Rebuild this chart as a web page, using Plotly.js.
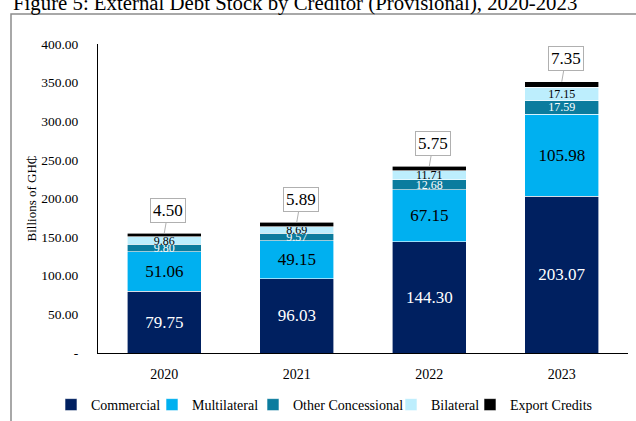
<!DOCTYPE html>
<html>
<head>
<meta charset="utf-8">
<script src="https://cdn.plot.ly/plotly-3.0.1.min.js"></script>
<style>html,body{margin:0;padding:0;background:#fff;}#chart{width:636px;height:421px;}</style>
</head>
<body>
<div id="chart"></div>
<script>
const years = ['2020', '2021', '2022', '2023'];
const commercial = [79.75, 96.03, 144.30, 203.07];
const multilateral = [51.06, 49.15, 67.15, 105.98];
const otherConcessional = [9.80, 9.57, 12.68, 17.59];
const bilateral = [9.86, 8.69, 11.71, 17.15];
const exportCredits = [4.50, 5.89, 5.75, 7.35];
const yTickVals = [0, 50, 100, 150, 200, 250, 300, 350, 400];
const yTickText = ['-', '50.00', '100.00', '150.00', '200.00', '250.00', '300.00', '350.00', '400.00'];

const serif = 'Liberation Serif, Times New Roman, serif';
const W = 636, H = 421, L = 98, R = 8, T = 43.5, B = 68;
const pw = W - L - R, ph = H - T - B;
const px = x => (x - L) / pw;
const py = y => (H - B - y) / ph;

function seg(name, vals, color, txtColor, size, showText, legendId) {
  return {
    type: 'bar', name: name, x: years, y: vals, legend: legendId,
    marker: {color: color, line: {color: '#ffffff', width: 0.6}},
    text: showText ? vals.map(v => v.toFixed(2)) : undefined,
    textposition: showText ? 'inside' : 'none',
    insidetextanchor: 'middle',
    textangle: 0,
    constraintext: 'none',
    textfont: {family: serif, size: size, color: txtColor},
    hoverinfo: 'x+y+name'
  };
}

const data = [
  seg('Commercial', commercial, '#002060', '#ffffff', 17, true, 'legend'),
  seg('Multilateral', multilateral, '#00B0F0', '#000000', 17, true, 'legend2'),
  seg('Other Concessional', otherConcessional, '#0B7C9E', '#ffffff', 12, true, 'legend3'),
  seg('Bilateral', bilateral, '#BDEEFD', '#000000', 12, true, 'legend4'),
  seg('Export Credits', exportCredits, '#000000', '#000000', 12, false, 'legend5')
];

const totals = years.map((_, i) => commercial[i] + multilateral[i] + otherConcessional[i] + bilateral[i] + exportCredits[i]);

const annotations = years.map((yr, i) => ({
  x: i, y: totals[i], xref: 'x', yref: 'y',
  text: exportCredits[i].toFixed(2),
  showarrow: true, arrowhead: 0, arrowwidth: 1, arrowcolor: '#b0b0b0',
  ax: 4, ay: -23,
  bgcolor: '#ffffff', bordercolor: '#b0b0b0', borderwidth: 1, borderpad: 2,
  font: {family: serif, size: 17, color: '#000000'}
}));

annotations.push({
  xref: 'paper', yref: 'paper', x: px(11), y: py(2),
  xanchor: 'left', yanchor: 'middle', showarrow: false,
  text: 'Figure 5: External Debt Stock by Creditor (Provisional), 2020-2023',
  font: {family: serif, size: 20.8, color: '#000000'}
});

function leg(textStartPx) {
  return {
    orientation: 'h', xref: 'container', yref: 'container',
    x: (textStartPx - 38) / W, xanchor: 'left', y: 1 - 405 / H, yanchor: 'middle',
    font: {family: serif, size: 14, color: '#000000'},
    itemwidth: 30, bgcolor: 'rgba(0,0,0,0)', borderwidth: 0
  };
}

const layout = {
  width: W, height: H,
  margin: {l: L, r: R, t: T, b: B, pad: 0},
  paper_bgcolor: '#ffffff', plot_bgcolor: '#ffffff',
  barmode: 'stack', bargap: 0.44,
  showlegend: true,
  legend: leg(89),
  legend2: leg(190),
  legend3: leg(291),
  legend4: leg(429),
  legend5: leg(508),
  xaxis: {
    type: 'category', range: [-0.5, 3.5], showline: true, linecolor: '#000000', linewidth: 1,
    ticks: '', showgrid: false, zeroline: false, automargin: false,
    tickfont: {family: serif, size: 14, color: '#000000'},
    ticklabelstandoff: 8
  },
  yaxis: {
    range: [0, 400], showline: true, linecolor: '#000000', linewidth: 1,
    ticks: '', showgrid: false, zeroline: false, automargin: false,
    tickmode: 'array', tickvals: yTickVals, ticktext: yTickText,
    tickfont: {family: serif, size: 13.5, color: '#000000'},
    ticklabelstandoff: 16,
    title: {text: 'Billions of GH₵', font: {family: serif, size: 13, color: '#000000'}}
  },
  annotations: annotations,
  shapes: [{
    type: 'rect', xref: 'paper', yref: 'paper',
    x0: px(11), x1: px(700), y0: py(480), y1: py(13.5),
    line: {color: '#8c8c8c', width: 1.5}, fillcolor: 'rgba(0,0,0,0)', layer: 'below'
  }]
};

Plotly.newPlot('chart', data, layout, {displayModeBar: false, staticPlot: true});
</script>
</body>
</html>
